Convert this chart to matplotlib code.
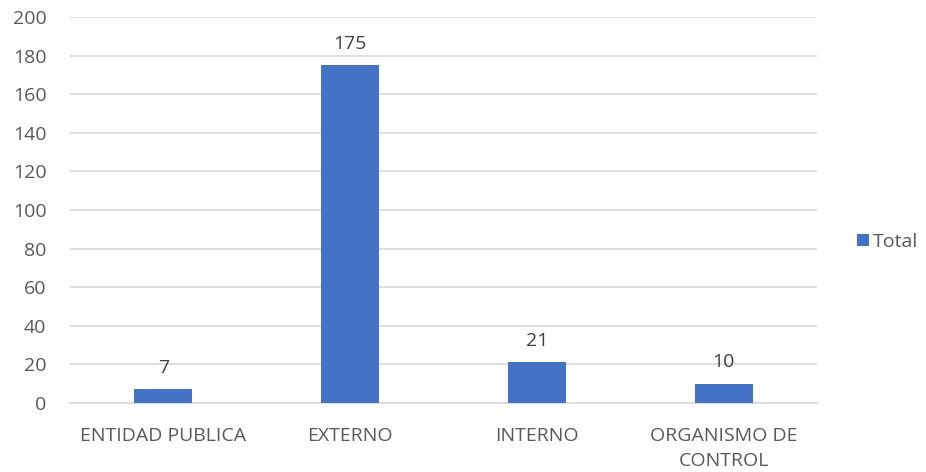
import matplotlib
matplotlib.use("Agg")
import matplotlib.pyplot as plt

categories = ["ENTIDAD PUBLICA", "EXTERNO", "INTERNO", "ORGANISMO DE\nCONTROL"]
totals = [7, 175, 21, 10]
y_ticks = [0, 20, 40, 60, 80, 100, 120, 140, 160, 180, 200]
series_name = "Total"

plt.rcParams["font.family"] = ["Open Sans", "DejaVu Sans"]
text_color = "#595959"
bar_color = "#4472C4"
grid_color = "#d9d9d9"
fs = 14

fig = plt.figure(figsize=(9.26, 4.72), dpi=100)
ax = fig.add_axes([70 / 926, (472 - 403) / 472, (817 - 70) / 926, 386 / 472])

x = range(len(categories))
bars = ax.bar(x, totals, width=0.31, color=bar_color, zorder=3, label=series_name)

for xi, v in zip(x, totals):
    ax.annotate(str(v), (xi, v), xytext=(0, 9), textcoords="offset points",
                ha="center", va="bottom", fontsize=fs, color="#404040")

ax.set_xlim(-0.5, len(categories) - 0.5)
ax.set_ylim(0, 200)
ax.set_yticks(y_ticks)
ax.set_yticklabels([str(t) for t in y_ticks], fontsize=fs, color=text_color)
ax.set_xticks(list(x))
ax.set_xticklabels(categories, fontsize=fs, color=text_color, linespacing=1.5)
ax.tick_params(axis="both", length=0)
ax.tick_params(axis="x", pad=17)
ax.tick_params(axis="y", pad=17)
for lbl in ax.get_yticklabels():
    lbl.set_horizontalalignment("right")

ax.grid(axis="y", color=grid_color, linewidth=1.2, zorder=0)
for side in ["top", "right", "left"]:
    ax.spines[side].set_visible(False)
ax.spines["bottom"].set_color(grid_color)
ax.spines["bottom"].set_linewidth(1.2)
ax.set_facecolor("none")

fig.legend(handles=[bars], labels=[series_name], loc="center left",
           bbox_to_anchor=(857 / 926, 1 - 242 / 472), frameon=False,
           borderpad=0, borderaxespad=0,
           fontsize=fs, labelcolor=text_color, handlelength=0.6,
           handleheight=0.6, handletextpad=0.2)

fig.savefig("out.png", dpi=100)
